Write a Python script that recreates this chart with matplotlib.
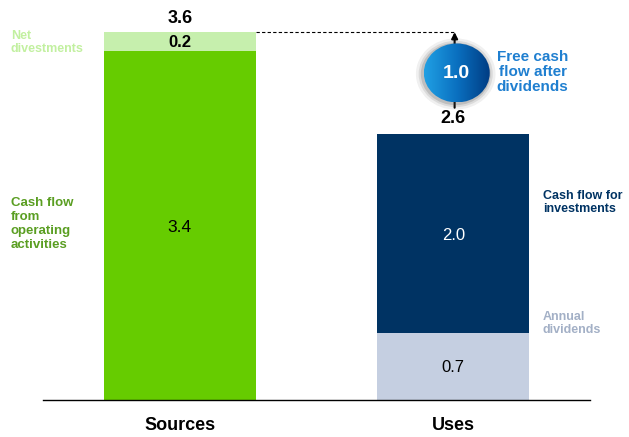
import numpy as np
import matplotlib.pyplot as plt
from matplotlib.patches import Ellipse
from matplotlib.colors import LinearSegmentedColormap

plt.rcParams['font.family'] = ['Liberation Sans', 'DejaVu Sans']

categories = ["Sources", "Uses"]
sources_vals = [3.41, 0.19]          # operating cash flow, net divestments
sources_labels = ["3.4", "0.2"]
uses_vals = [0.66, 1.94]             # dividends, investments
uses_labels = ["0.7", "2.0"]
totals = [3.6, 2.6]
free_cash_flow = 1.0

green = "#66cc00"
light_green = "#c6efad"
navy = "#003363"
light_blue = "#c5cfe1"

fig = plt.figure(figsize=(6.29, 4.37), dpi=100)
ax = fig.add_axes([43 / 629, 37 / 437, 547 / 629, 400 / 437])

w = 0.555
x = np.arange(len(categories))

# stacked bars
ax.bar(x[0], sources_vals[0], width=w, color=green, zorder=2)
ax.bar(x[0], sources_vals[1], bottom=sources_vals[0], width=w, color=light_green, zorder=2)
ax.bar(x[1], uses_vals[0], width=w, color=light_blue, zorder=2)
ax.bar(x[1], uses_vals[1], bottom=uses_vals[0], width=w, color=navy, zorder=2)

# segment labels
ax.text(x[0], sources_vals[0] / 2 - 0.02, sources_labels[0], ha='center', va='center', fontsize=12.5, color='black')
ax.text(x[0], sources_vals[0] + sources_vals[1] / 2 - 0.01, sources_labels[1], ha='center', va='center',
        fontsize=12, fontweight='bold', color='black')
ax.text(x[1], uses_vals[0] / 2 - 0.01, uses_labels[0], ha='center', va='center', fontsize=12, color='black')
ax.text(x[1], uses_vals[0] + uses_vals[1] / 2 - 0.02, uses_labels[1], ha='center', va='center', fontsize=12, color='white')

# totals
ax.text(x[0], totals[0] + 0.135, f"{totals[0]:.1f}", ha='center', va='center', fontsize=13, fontweight='bold')
ax.text(x[1], totals[1] + 0.15, f"{totals[1]:.1f}", ha='center', va='center', fontsize=13, fontweight='bold')

# dashed reference line and arrow
xa = 1.005
ax.plot([x[0] + w / 2, xa], [totals[0], totals[0]], ls=(0, (3, 2)), color='black', lw=0.8, zorder=1)
ax.annotate("", xy=(xa, totals[0]), xytext=(xa, totals[1] + 0.26),
            arrowprops=dict(arrowstyle='-|>', color='black', lw=1.5, mutation_scale=9,
                            shrinkA=0, shrinkB=0), zorder=3)

# circle badge with gradient
cx, cy, ew, eh = 1.013, 3.20, 0.241, 0.577
for k, a in [(0.025, 0.08), (0.015, 0.12), (0.007, 0.18)]:
    ax.add_patch(Ellipse((cx - 0.004, cy - 0.01), ew + 2 * k, eh + 2 * k * 2.4,
                         color='#404040', alpha=a, lw=0, zorder=4))
ell = Ellipse((cx, cy), ew, eh, facecolor='none', edgecolor='none', zorder=5)
ax.add_patch(ell)
cmap = LinearSegmentedColormap.from_list("badge", ["#20a0e4", "#0a70c0", "#003d84"])
grad = np.tile(np.linspace(0, 1, 200), (50, 1))
im = ax.imshow(grad, cmap=cmap, extent=[cx - ew / 2, cx + ew / 2, cy - eh / 2, cy + eh / 2],
               aspect='auto', zorder=5, interpolation='bilinear')
im.set_clip_path(ell)
ax.text(cx, cy - 0.01, f"{free_cash_flow:.1f}", ha='center', va='center', fontsize=14,
        fontweight='bold', color='white', zorder=6)
ax.text(1.29, 3.21, "Free cash\nflow after\ndividends", ha='center', va='center', fontsize=11,
        fontweight='bold', color='#1f7fd0', linespacing=1.12)

# side labels
ax.text(-0.618, 3.50, "Net\ndivestments", ha='left', va='center', fontsize=9, fontweight='bold',
        color='#c2f0a0', linespacing=1.15, clip_on=False)
ax.text(-0.618, 1.72, "Cash flow\nfrom\noperating\nactivities", ha='left', va='center', fontsize=9.5,
        fontweight='bold', color='#5a9e22', linespacing=1.22, clip_on=False)
ax.text(1.327, 1.93, "Cash flow for\ninvestments", ha='left', va='center', fontsize=9,
        fontweight='bold', color=navy, linespacing=1.15, clip_on=False)
ax.text(1.327, 0.75, "Annual\ndividends", ha='left', va='center', fontsize=9,
        fontweight='bold', color='#a3b0c6', linespacing=1.15, clip_on=False)

ax.set_xlim(-0.5, 1.5)
ax.set_ylim(0, 400 / 102.2)
ax.set_xticks(x)
ax.set_xticklabels(categories, fontsize=13, fontweight='bold')
ax.tick_params(axis='x', length=0, pad=12)
ax.set_yticks([])
for s in ['top', 'right', 'left']:
    ax.spines[s].set_visible(False)
ax.spines['bottom'].set_linewidth(1.0)
ax.spines['bottom'].set_zorder(3)
ax.patch.set_alpha(0)

fig.savefig("out.png", dpi=100)
